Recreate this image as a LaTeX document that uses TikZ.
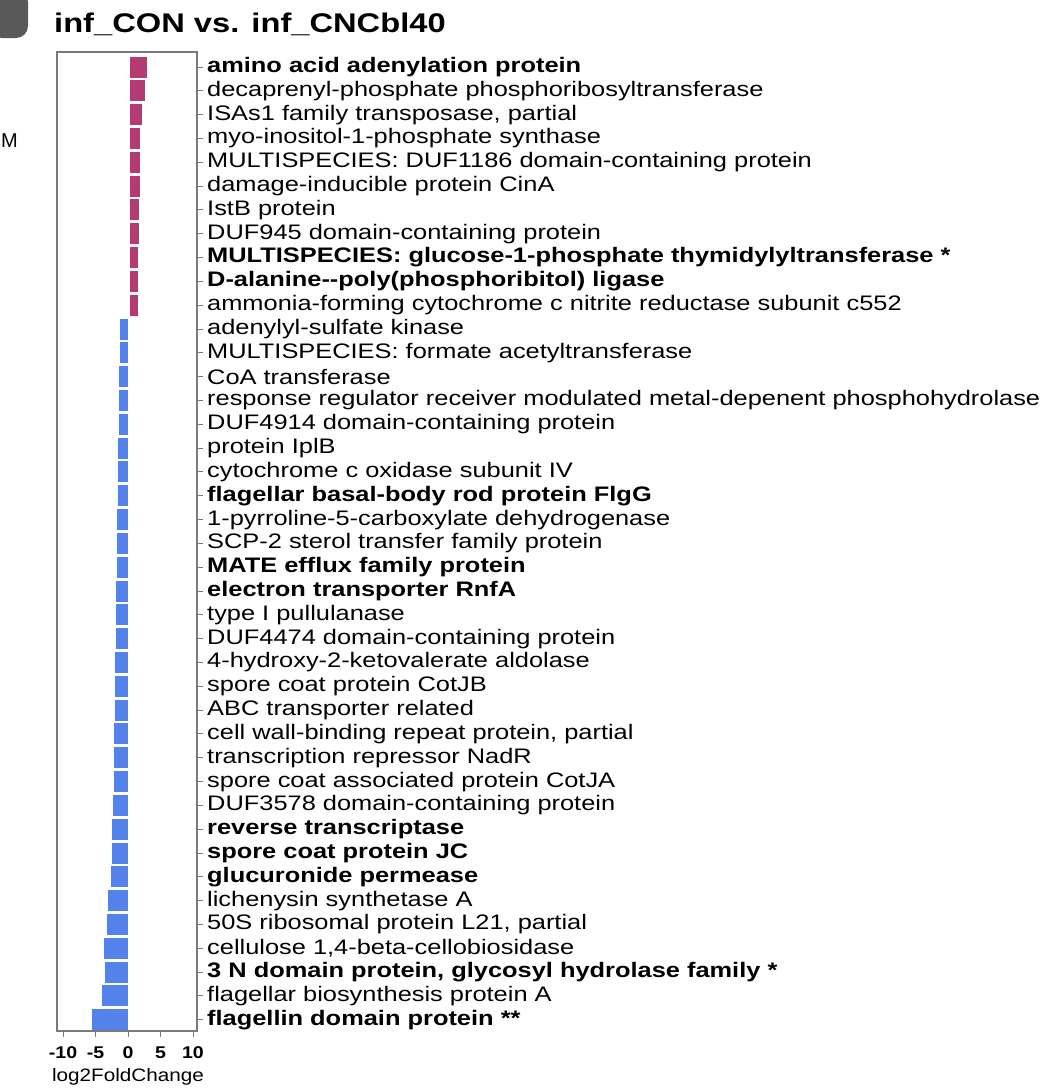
\documentclass[tikz,border=0pt]{standalone}
\usepackage{fontspec}
\setmainfont{Liberation Sans}
\usetikzlibrary{positioning}
\definecolor{upbar}{HTML}{B43A72}
\definecolor{downbar}{HTML}{5383EA}
\definecolor{frame}{HTML}{7A7A7A}
\newcommand{\widetext}[1]{\scalebox{1.27}[1.05]{#1}}

\begin{document}
\begin{tikzpicture}[x=1pt, y=-1pt,
    genelabel/.style ={anchor=west, font=\fontsize{20}{20}\selectfont, inner sep=0pt},
    ticklabel/.style ={font=\bfseries\fontsize{17}{17}\selectfont, inner sep=0pt}]
   \useasboundingbox (0,0) rectangle (1043,1090);
   \fill[gray!70!black, rounded corners=12pt] (-10,-10) rectangle (28,38);
   \node[font=\fontsize{20}{20}\selectfont, anchor=west, inner sep=0pt] (cutM) at (1,141) {M};
   \node[font=\bfseries\fontsize{27}{27}\selectfont, anchor=west, inner sep=0pt] (title) at (54,24) {\scalebox{1.21}[1]{inf\_CON vs. inf\_CNCbl40}};

   % bars and right ticks
   \foreach \v [count=\i] in {2.6,2.3,1.9,1.6,1.5,1.5,1.4,1.4,1.3,1.3,1.2,
       -1.2,-1.3,-1.35,-1.4,-1.45,-1.5,-1.55,-1.6,-1.65,-1.7,-1.75,-1.8,-1.85,-1.9,-1.95,-2.0,-2.05,-2.1,-2.15,-2.2,-2.3,-2.5,-2.5,-2.6,-3.1,-3.2,-3.7,-3.6,-4.0,-5.5} {
     \pgfmathsetmacro{\yc}{67+(\i-1)*23.82}
     \ifdim \v pt>0pt
       \fill[upbar] (130,\yc-10.5) rectangle (130+6.5*\v,\yc+10.5);
     \else
       \fill[downbar] (128,\yc-10.5) rectangle (128+6.5*\v,\yc+10.5);
     \fi
     \draw[frame, line width=1pt] (197,\yc) -- (203,\yc);
   }
   \draw[frame, line width=1.3pt] (57,52) rectangle (197,1031);

   \foreach \t [count=\i] in {
     {\bfseries amino acid adenylation protein},
     decaprenyl-phosphate phosphoribosyltransferase,
     {ISAs1 family transposase, partial},
     myo-inositol-1-phosphate synthase,
     MULTISPECIES: DUF1186 domain-containing protein,
     damage-inducible protein CinA,
     IstB protein,
     DUF945 domain-containing protein,
     {\bfseries MULTISPECIES: glucose-1-phosphate thymidylyltransferase *},
     {\bfseries D-alanine-{}-poly(phosphoribitol) ligase},
     ammonia-forming cytochrome c nitrite reductase subunit c552,
     adenylyl-sulfate kinase,
     MULTISPECIES: formate acetyltransferase,
     CoA transferase,
     response regulator receiver modulated metal-depenent phosphohydrolase,
     DUF4914 domain-containing protein,
     protein IplB,
     cytochrome c oxidase subunit IV,
     {\bfseries flagellar basal-body rod protein FlgG},
     1-pyrroline-5-carboxylate dehydrogenase,
     SCP-2 sterol transfer family protein,
     {\bfseries MATE efflux family protein},
     {\bfseries electron transporter RnfA},
     type I pullulanase,
     DUF4474 domain-containing protein,
     4-hydroxy-2-ketovalerate aldolase,
     spore coat protein CotJB,
     ABC transporter related,
     {cell wall-binding repeat protein, partial},
     transcription repressor NadR,
     spore coat associated protein CotJA,
     DUF3578 domain-containing protein,
     {\bfseries reverse transcriptase},
     {\bfseries spore coat protein JC},
     {\bfseries glucuronide permease},
     lichenysin synthetase A,
     {50S ribosomal protein L21, partial},
     {cellulose 1,4-beta-cellobiosidase},
     {\bfseries 3 N domain protein, glycosyl hydrolase family *},
     flagellar biosynthesis protein A,
     {\bfseries flagellin domain protein **}} {
     \pgfmathsetmacro{\yc}{67+(\i-1)*23.82}
     \node[genelabel] (gene\i) at (207,\yc) {\widetext{\t}};
   }

   % x axis
   \foreach \x/\lab in {-10/-10,-5/-5,0/0,5/5,10/10} {
     \draw[frame, line width=1pt] (128+6.5*\x,1031) -- (128+6.5*\x,1037);
     \node[ticklabel] (tick\lab) at (128+6.5*\x,1053) {\scalebox{1.15}[1]{\lab}};
   }
   \node[font=\fontsize{18}{18}\selectfont, inner sep=0pt] (xlabel) at (128,1077) {\scalebox{1.15}[1]{log2FoldChange}};
 \end{tikzpicture}
\end{document}
